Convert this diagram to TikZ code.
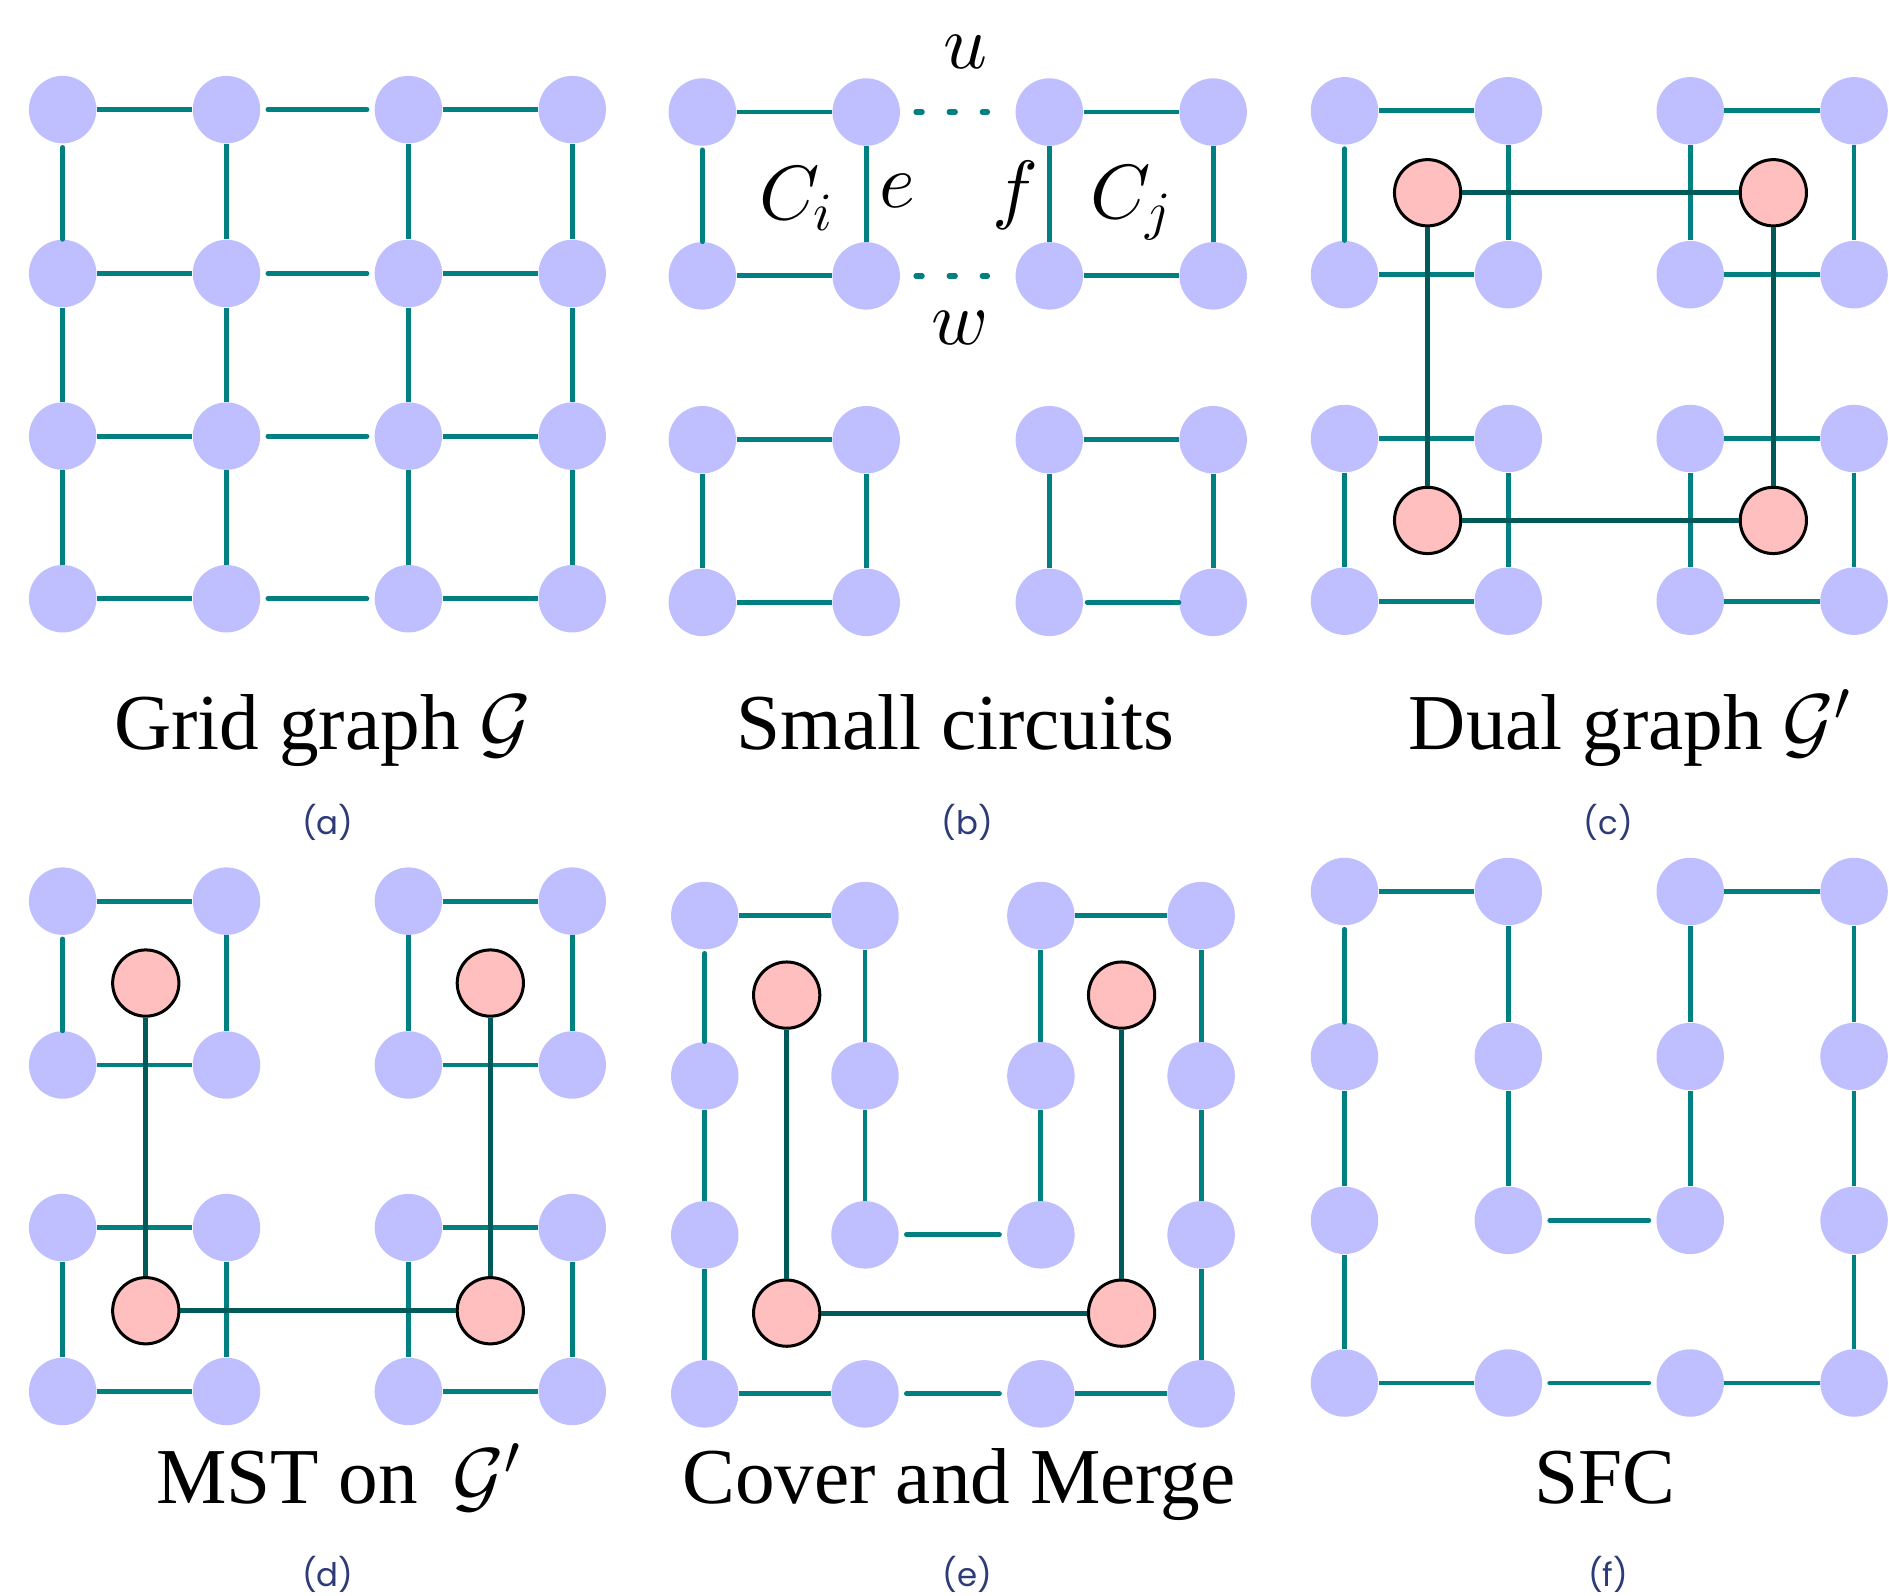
\documentclass[tikz,border=0pt]{standalone}
\usepackage{fontspec}
\setmainfont{lmroman10-regular.otf}[ItalicFont=lmroman10-italic.otf,BoldFont=lmroman10-bold.otf]
\newfontfamily\capfont{Liberation Serif}
\newfontfamily\subfont{Poppins}
\DeclareFontShape{OML}{cmm}{m}{it}{<->cmmi10}{}
\DeclareFontShape{OMS}{cmsy}{m}{n}{<->cmsy10}{}
\definecolor{nodeblue}{HTML}{BFBFFF}
\definecolor{nodepink}{HTML}{FFBFBF}
\definecolor{edgeteal}{HTML}{008080}
\definecolor{edgedark}{HTML}{005A5A}
\definecolor{subcol}{RGB}{45,60,120}
\tikzset{
  bn/.style={circle,fill=nodeblue,draw=none,minimum size=28bp,inner sep=0pt},
  rn/.style={circle,fill=nodepink,draw=black,line width=1.25bp,minimum size=27.5bp,inner sep=0pt},
  ed/.style={draw=edgeteal,line width=2bp},
  gp/.style={ed,line cap=round,shorten <=3bp,shorten >=3bp},
  gs/.style={ed,line cap=round,shorten <=1.5bp},
  dk/.style={draw=edgedark,line width=2bp},
  dt/.style={ed,line width=2.2bp,line cap=round,dash pattern=on 2.5bp off 11.25bp,shorten <=6.5bp,shorten >=11.5bp},
  captxt/.style={font=\capfont\fontsize{33}{40}\selectfont,anchor=base,inner sep=0pt},
  lab/.style={font=\fontsize{32}{38}\selectfont,anchor=base,inner sep=0pt},
  sublab/.style={font=\subfont\fontsize{13.5}{16}\selectfont,text=subcol,inner sep=0pt}
}
\begin{document}
\begin{tikzpicture}[x=0.5bp,y=-0.5bp]
\path[use as bounding box] (0,0) rectangle (1568,1324);

% ---------- nodes ----------
\foreach \x [count=\c] in {52,188,339,475}
  \foreach \y [count=\r] in {91,227,362,497}
    \node[bn] (a\r\c) at (\x,\y) {};
\foreach \x [count=\c] in {583,719,871,1007}
  \foreach \y [count=\r] in {93,229,365,500}
    \node[bn] (b\r\c) at (\x,\y) {};
\foreach \x [count=\c] in {1116,1252,1403,1539}
  \foreach \y [count=\r] in {92,228,364,499}
    \node[bn] (c\r\c) at (\x,\y) {};
\foreach \x [count=\c] in {52,188,339,475}
  \foreach \y [count=\r] in {748,884,1019,1155}
    \node[bn] (d\r\c) at (\x,\y) {};
\foreach \x [count=\c] in {585,718,864,997}
  \foreach \y [count=\r] in {760,893,1025,1157}
    \node[bn] (e\r\c) at (\x,\y) {};
\foreach \x [count=\c] in {1116,1252,1403,1539}
  \foreach \y [count=\r] in {740,877,1013,1148}
    \node[bn] (f\r\c) at (\x,\y) {};

\node[rn] (cr1) at (1185,160) {};
\node[rn] (cr2) at (1472,160) {};
\node[rn] (cr3) at (1185,432) {};
\node[rn] (cr4) at (1472,432) {};
\node[rn] (dr1) at (121,816) {};
\node[rn] (dr2) at (407,816) {};
\node[rn] (dr3) at (121,1088) {};
\node[rn] (dr4) at (407,1088) {};
\node[rn] (er1) at (653,826) {};
\node[rn] (er2) at (931,826) {};
\node[rn] (er3) at (653,1090) {};
\node[rn] (er4) at (931,1090) {};

% ---------- (a) grid edges ----------
\foreach \r in {1,...,4} {
  \draw[ed] (a\r1) -- (a\r2);
  \draw[gp] (a\r2) -- (a\r3);
  \draw[ed] (a\r3) -- (a\r4);
}
\draw[gs] (a11) -- (a21);
\foreach \r/\s in {2/3,3/4} \draw[ed] (a\r1) -- (a\s1);
\foreach \c in {2,3,4}
  \foreach \r/\s in {1/2,2/3,3/4}
    \draw[ed] (a\r\c) -- (a\s\c);

% ---------- squares for (b), (c), (d) ----------
\foreach \p in {b,c,d} {
  \draw[ed] (\p11) -- (\p12);
  \draw[ed] (\p21) -- (\p22);
  \draw[gs] (\p11) -- (\p21);
  \draw[ed] (\p12) -- (\p22);
  \draw[ed] (\p13) -- (\p14);
  \draw[ed] (\p23) -- (\p24);
  \draw[ed] (\p13) -- (\p23);
  \draw[ed] (\p14) -- (\p24);
  \draw[ed] (\p31) -- (\p32);
  \draw[ed] (\p41) -- (\p42);
  \draw[ed] (\p31) -- (\p41);
  \draw[ed] (\p32) -- (\p42);
  \draw[ed] (\p33) -- (\p34);
  \draw[ed] (\p33) -- (\p43);
  \draw[ed] (\p34) -- (\p44);
}
\draw[ed] (c43) -- (c44);
\draw[ed] (d43) -- (d44);
\draw[gs] (b43) -- (b44);

% dotted links in (b)
\draw[dt] (b12) -- (b13);
\draw[dt] (b22) -- (b23);

% labels in (b)
\node[lab] (lu) at (801,57) {$u$};
\node[lab] (lw) at (797,286) {$w$};
\node[lab] (lci) at (661,182) {$C_i$};
\node[lab] (le) at (745,172) {$e$};
\node[lab] (lf) at (843,178) {$f$};
\node[lab] (lcj) at (939,181) {$C_j$};

% ---------- dual edges ----------
\draw[dk] (cr1) -- (cr2);
\draw[dk] (cr3) -- (cr4);
\draw[dk] (cr1) -- (cr3);
\draw[dk] (cr2) -- (cr4);
\draw[dk] (dr1) -- (dr3);
\draw[dk] (dr2) -- (dr4);
\draw[dk] (dr3) -- (dr4);

% ---------- (e) cover and merge cycle ----------
\draw[ed] (e11) -- (e12);
\draw[ed] (e12) -- (e22);
\draw[ed] (e22) -- (e32);
\draw[gp] (e32) -- (e33);
\draw[ed] (e33) -- (e23);
\draw[ed] (e23) -- (e13);
\draw[ed] (e13) -- (e14);
\draw[ed] (e14) -- (e24);
\draw[ed] (e24) -- (e34);
\draw[ed] (e34) -- (e44);
\draw[ed] (e44) -- (e43);
\draw[gp] (e43) -- (e42);
\draw[ed] (e42) -- (e41);
\draw[ed] (e41) -- (e31);
\draw[ed] (e31) -- (e21);
\draw[gs] (e11) -- (e21);
\draw[dk] (er1) -- (er3);
\draw[dk] (er2) -- (er4);
\draw[dk] (er3) -- (er4);

% ---------- (f) SFC ----------
\draw[ed] (f11) -- (f12);
\draw[ed] (f12) -- (f22);
\draw[ed] (f22) -- (f32);
\draw[gp] (f32) -- (f33);
\draw[ed] (f33) -- (f23);
\draw[ed] (f23) -- (f13);
\draw[ed] (f13) -- (f14);
\draw[ed] (f14) -- (f24);
\draw[ed] (f24) -- (f34);
\draw[ed] (f34) -- (f44);
\draw[ed] (f44) -- (f43);
\draw[gp] (f43) -- (f42);
\draw[ed] (f42) -- (f41);
\draw[ed] (f41) -- (f31);
\draw[ed] (f31) -- (f21);
\draw[gs] (f11) -- (f21);

% ---------- captions ----------
\node[captxt] (ta) at (268,622) {Grid graph $\mathcal{G}$};
\node[captxt] (tb) at (793,622) {Small circuits};
\node[captxt] (tc) at (1353,622) {Dual graph $\mathcal{G}'$};
\node[captxt] (td) at (281,1248) {MST on\hspace{6bp} $\mathcal{G}'$};
\node[captxt] (te) at (796,1248) {Cover and Merge};
\node[captxt] (tf) at (1332,1248) {SFC};

\node[sublab] (sa) at (272,683) {(a)};
\node[sublab] (sb) at (803,683) {(b)};
\node[sublab] (sc) at (1335,683) {(c)};
\node[sublab] (sd) at (272,1307) {(d)};
\node[sublab] (se) at (803,1307) {(e)};
\node[sublab] (sf) at (1335,1307) {(f)};
\end{tikzpicture}
\end{document}
